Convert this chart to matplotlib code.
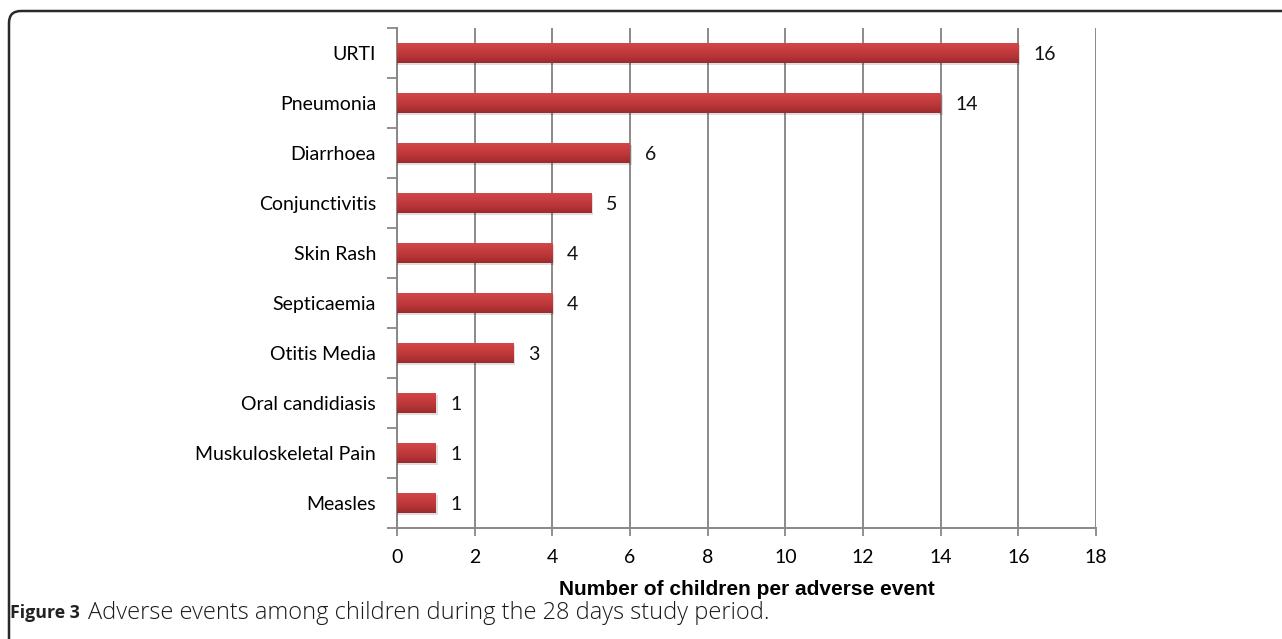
import numpy as np
import matplotlib
matplotlib.use("Agg")
import matplotlib.pyplot as plt
from matplotlib.path import Path
from matplotlib.patches import PathPatch
from matplotlib.colors import LinearSegmentedColormap
from matplotlib.transforms import IdentityTransform

# data (top to bottom as in the chart)
events = ["URTI", "Pneumonia", "Diarrhoea", "Conjunctivitis", "Skin Rash",
          "Septicaemia", "Otitis Media", "Oral candidiasis",
          "Muskuloskeletal Pain", "Measles"]
counts = [16, 14, 6, 5, 4, 4, 3, 1, 1, 1]
xticks = list(range(0, 19, 2))

W, H = 1282, 639
fig = plt.figure(figsize=(W / 100, H / 100), dpi=100)
ax = fig.add_axes([397 / W, 1 - 528 / H, (1096 - 397) / W, (528 - 28) / H])

ypos = np.arange(len(events))[::-1]

# soft shadow under each bar
ax.barh(ypos - 0.04, [c + 0.05 for c in counts], height=0.4, color="#000000",
        alpha=0.13, edgecolor="none", zorder=2.8)
bars = ax.barh(ypos, counts, height=0.4, color="#b53436", edgecolor="none", zorder=3)

# vertical gradient on each bar (light top, dark bottom)
cmap = LinearSegmentedColormap.from_list("bar", ["#d24748", "#c83d3f", "#b73537", "#9b2a2c"])
grad = np.linspace(0, 1, 64).reshape(-1, 1)
for b in bars:
    x0, y0 = b.get_x(), b.get_y()
    w, h = b.get_width(), b.get_height()
    im = ax.imshow(grad, cmap=cmap, aspect="auto", extent=[x0, x0 + w, y0, y0 + h],
                   origin="upper", zorder=3.5)
    im.set_clip_path(b)

for y, v in zip(ypos, counts):
    ax.text(v + 0.38, y - 0.02, str(v), va="center", ha="left", fontsize=14,
            family="Lato", color="#111111")

ax.set_xlim(0, 18)
ax.set_ylim(-0.5, len(events) - 0.5)
ax.set_xticks(xticks)
ax.set_xticklabels([str(t) for t in xticks], fontsize=14, family="Lato")
ax.set_yticks(ypos)
ax.set_yticklabels(events, fontsize=14, family="Lato")
ax.set_yticks(np.arange(-0.5, len(events), 1), minor=True)
ax.tick_params(axis="y", which="major", length=0, pad=15)
ax.tick_params(axis="y", which="minor", length=7, width=1.3, color="#888888")
ax.tick_params(axis="x", length=6, width=1.3, color="#888888", pad=9)

ax.xaxis.grid(True, color="#8a8a8a", linewidth=1.4, zorder=0)
ax.set_axisbelow(True)
for s in ["top", "right"]:
    ax.spines[s].set_visible(False)
for s in ["left", "bottom"]:
    ax.spines[s].set_color("#888888")
    ax.spines[s].set_linewidth(1.4)

ax.set_xlabel("Number of children per adverse event", fontsize=15,
              family="Liberation Sans", fontweight="bold", labelpad=10)

# caption
fig.text(10 / W, 1 - 613 / H, "Figure 3", fontsize=12.8, family="Open Sans",
         fontweight="bold", va="center", ha="left", color="#222222")
fig.text(88 / W, 1 - 613 / H, "Adverse events among children during the 28 days study period.",
         fontsize=17, family="Open Sans", fontweight="light", va="center", ha="left",
         color="#1a1a1a")

# frame: left and top edge with rounded corner
r = 12
verts = [(9, 0), (9, H - 11 - r), (9, H - 11), (9 + r, H - 11), (W, H - 11)]
codes = [Path.MOVETO, Path.LINETO, Path.CURVE3, Path.CURVE3, Path.LINETO]
fig.add_artist(PathPatch(Path(verts, codes), transform=IdentityTransform(),
                         fill=False, edgecolor="#2a2a2a", linewidth=1.8))

fig.savefig("out.png", dpi=100)
